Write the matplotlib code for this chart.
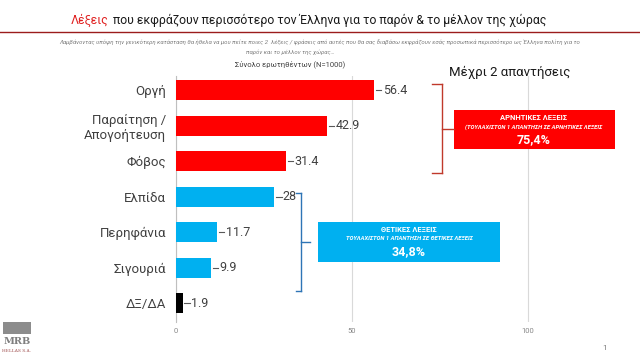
import matplotlib
matplotlib.use('Agg')
import matplotlib.pyplot as plt
from matplotlib.patches import Rectangle
from matplotlib.lines import Line2D

plt.rcParams['font.family'] = ['Roboto', 'DejaVu Sans']

# data
labels = ['Οργή', 'Παραίτηση /\nΑπογοήτευση', 'Φόβος', 'Ελπίδα', 'Περηφάνια', 'Σιγουριά', 'ΔΞ/ΔΑ']
values = [56.4, 42.9, 31.4, 28, 11.7, 9.9, 1.9]
value_text = ['56.4', '42.9', '31.4', '28', '11.7', '9.9', '1.9']
colors = ['#FF0000', '#FF0000', '#FF0000', '#00B0F0', '#00B0F0', '#00B0F0', '#000000']
xticks = [0, 50, 100]

W, H = 640, 360
fig = plt.figure(figsize=(6.4, 3.6), dpi=100)
fig.patch.set_facecolor('white')


def fx(x):
    return x / W


def fy(y):
    return 1 - y / H


ax = fig.add_axes([fx(176), fy(322), fx(598) - fx(176), fy(76) - fy(322)])
ypos = list(range(len(values)))
ax.barh(ypos, values, height=0.57, color=colors, zorder=3)
ax.set_ylim(6.53, -0.4)
ax.set_xlim(0, 120)
ax.set_xticks(xticks)
ax.set_xticklabels([str(t) for t in xticks], fontsize=5.5, color='#888888')
ax.set_yticks(ypos)
ax.set_yticklabels(labels, fontsize=9.5, color='#404040')
ax.tick_params(axis='both', length=0, pad=7)
ax.tick_params(axis='x', pad=4)
ax.grid(axis='x', color='#d9d9d9', linewidth=0.8, zorder=0)
for s in ['top', 'right', 'bottom']:
    ax.spines[s].set_visible(False)
ax.spines['left'].set_color('#bfbfbf')
ax.spines['left'].set_linewidth(0.8)

# value labels with leader dash
for i, (v, t) in enumerate(zip(values, value_text)):
    ax.plot([v + 0.5, v + 2.0], [i, i], color='#595959', linewidth=0.8, zorder=4)
    ax.text(v + 2.4, i, t, va='center', ha='left', fontsize=9, color='#404040')

# title: red word then the rest right after it
t1 = fig.text(fx(71), fy(20), 'Λέξεις', color='#e02020', fontsize=8.8, va='center', ha='left')
fig.canvas.draw()
ext = t1.get_window_extent()
fig.text(ext.x1 / W + fx(4), fy(20), 'που εκφράζουν περισσότερο τον Έλληνα για το παρόν & το μέλλον της χώρας',
         color='#1a1a1a', fontsize=8.8, va='center', ha='left')
fig.add_artist(Line2D([0, 1], [fy(32), fy(32)], color='#9b1c1c', linewidth=1.0))
fig.text(0.5, fy(42), 'Λαμβάνοντας υπόψη την γενικότερη κατάσταση θα ήθελα να μου πείτε ποιες 2  λέξεις / φράσεις από αυτές που θα σας διαβάσω εκφράζουν εσάς προσωπικά περισσότερο ως Έλληνα πολίτη για το',
         fontsize=4.3, style='italic', color='#7f7f7f', ha='center', va='center')
fig.text(fx(290), fy(52), 'παρόν και το μέλλον της χώρας…', fontsize=4.3, style='italic',
         color='#7f7f7f', ha='center', va='center')
fig.text(fx(290), fy(64), 'Σύνολο ερωτηθέντων (N=1000)', fontsize=5.5, color='#404040',
         ha='center', va='center')
fig.text(fx(510), fy(72), 'Μέχρι 2 απαντήσεις', fontsize=9.5, color='#1a1a1a',
         ha='center', va='center')

# red bracket and box
red = '#FF0000'
br = '#c0392b'
for seg in [[(432, 84), (442, 84)], [(442, 84), (442, 173)], [(432, 173), (442, 173)], [(442, 129), (454, 129)]]:
    fig.add_artist(Line2D([fx(seg[0][0]), fx(seg[1][0])], [fy(seg[0][1]), fy(seg[1][1])],
                          color=br, linewidth=1.0))
fig.add_artist(Rectangle((fx(454), fy(149)), fx(615) - fx(454), fy(110) - fy(149),
                         facecolor=red, edgecolor='none', transform=fig.transFigure))
fig.text(fx(534), fy(118), 'ΑΡΝΗΤΙΚΕΣ ΛΕΞΕΙΣ', color='white', fontsize=5.5, weight='bold',
         ha='center', va='center')
fig.text(fx(534), fy(127), '(ΤΟΥΛΑΧΙΣΤΟΝ 1 ΑΠΑΝΤΗΣΗ ΣΕ ΑΡΝΗΤΙΚΕΣ ΛΕΞΕΙΣ', color='white',
         fontsize=4.2, weight='bold', style='italic', ha='center', va='center')
fig.text(fx(534), fy(140), '75,4%', color='white', fontsize=9, weight='bold',
         ha='center', va='center')

# blue bracket and box
blue = '#00B0F0'
bb = '#2e75b6'
for seg in [[(296, 193), (301, 193)], [(301, 193), (301, 291)], [(296, 291), (301, 291)], [(301, 242), (310, 242)]]:
    fig.add_artist(Line2D([fx(seg[0][0]), fx(seg[1][0])], [fy(seg[0][1]), fy(seg[1][1])],
                          color=bb, linewidth=1.0))
fig.add_artist(Rectangle((fx(318), fy(262)), fx(500) - fx(318), fy(222) - fy(262),
                         facecolor=blue, edgecolor='none', transform=fig.transFigure))
fig.text(fx(409), fy(230), 'ΘΕΤΙΚΕΣ ΛΕΞΕΙΣ', color='white', fontsize=5.5, weight='bold',
         ha='center', va='center')
fig.text(fx(409), fy(239), 'ΤΟΥΛΑΧΙΣΤΟΝ 1 ΑΠΑΝΤΗΣΗ ΣΕ ΘΕΤΙΚΕΣ ΛΕΞΕΙΣ', color='white',
         fontsize=4.2, weight='bold', style='italic', ha='center', va='center')
fig.text(fx(409), fy(252), '34,8%', color='white', fontsize=9, weight='bold',
         ha='center', va='center')

# logo and page number
fig.add_artist(Rectangle((fx(3), fy(334)), fx(28), fy(322) - fy(334),
                         facecolor='#8c8c8c', edgecolor='none', transform=fig.transFigure))
fig.text(fx(17), fy(342), 'MRB', color='#7f7f7f', fontsize=7, weight='bold',
         family='DejaVu Serif', ha='center', va='center')
fig.text(fx(17), fy(351), 'HELLAS S.A.', color='#a05050', fontsize=3.2,
         family='DejaVu Serif', ha='center', va='center')
fig.text(fx(605), fy(348), '1', color='#7f7f7f', fontsize=6, ha='center', va='center')

fig.savefig('out.png', dpi=100)
